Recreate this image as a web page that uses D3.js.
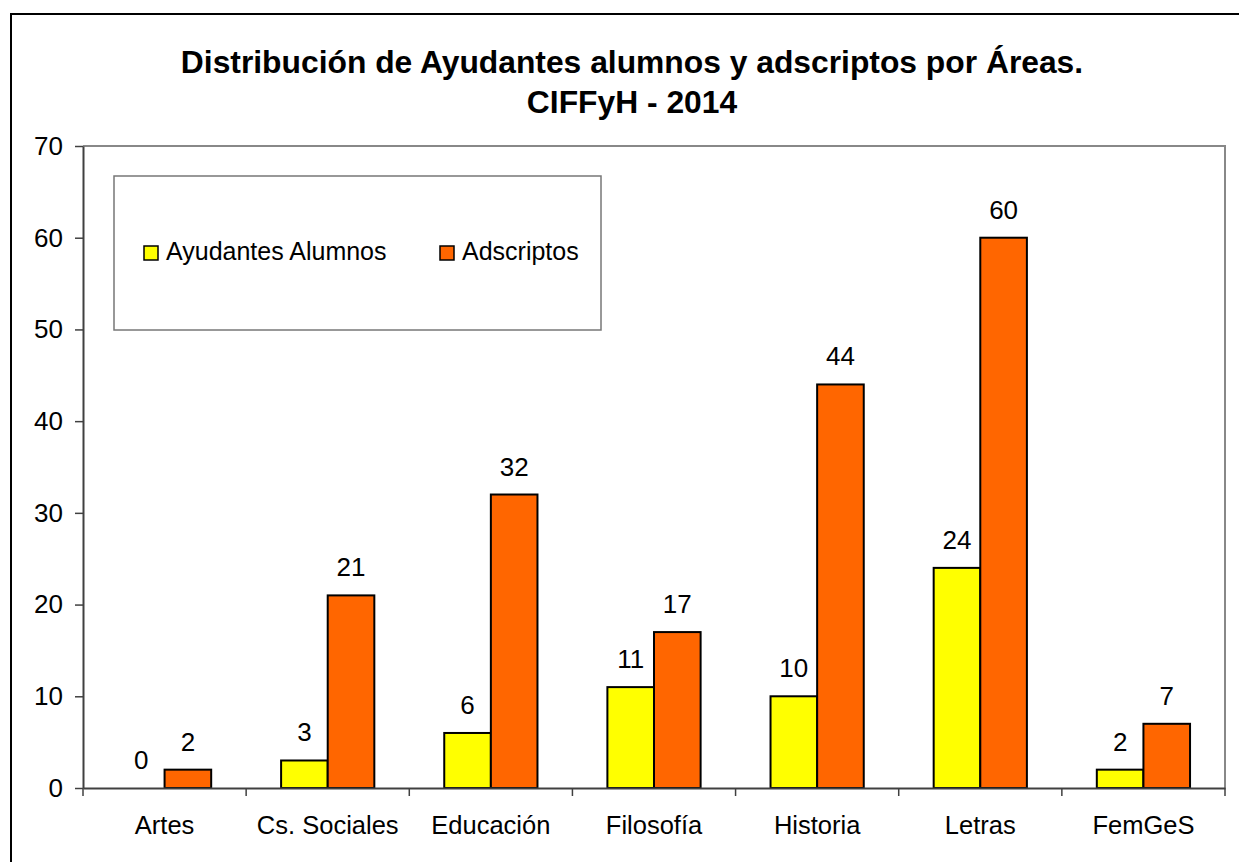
<!DOCTYPE html>
<html>
<head>
<meta charset="utf-8">
<script src="https://cdn.jsdelivr.net/npm/d3@7"></script>
<style>
  body { margin: 0; background: #fff; }
  svg text { font-family: "Liberation Sans", Arial, sans-serif; fill: #000; }
</style>
</head>
<body>
<svg id="chart" width="1239" height="862"></svg>
<script>
// Data.
const areas = ["Artes", "Cs. Sociales", "Educación", "Filosofía", "Historia", "Letras", "FemGeS"];
const ayudantes = [0, 3, 6, 11, 10, 24, 2];
const adscriptos = [2, 21, 32, 17, 44, 60, 7];
const seriesNames = ["Ayudantes Alumnos", "Adscriptos"];
const seriesColors = ["#ffff00", "#ff6600"];
const yTicks = [0, 10, 20, 30, 40, 50, 60, 70];
const titleLines = ["Distribución de Ayudantes alumnos y adscriptos por Áreas.", "CIFFyH - 2014"];

const svg = d3.select("#chart");

// Outer chart border (runs off the right and bottom edge like the original).
svg.append("rect")
  .attr("x", 11).attr("y", 14).attr("width", 1260).attr("height", 900)
  .attr("fill", "none").attr("stroke", "#000").attr("stroke-width", 2);

const plot = { left: 83, right: 1225, top: 146, bottom: 788 };

const x = d3.scaleBand().domain(areas).range([plot.left, plot.right]);
const y = d3.scaleLinear().domain([0, 70]).range([plot.bottom, plot.top]);
const barW = x.bandwidth() / 3.5;

// Plot frame: grey top and right edges.
svg.append("path")
  .attr("d", `M${plot.left},${plot.top}H${plot.right}V${plot.bottom}`)
  .attr("fill", "none").attr("stroke", "#888").attr("stroke-width", 2);

// Title.
svg.append("text")
  .attr("x", 632).attr("y", 73)
  .attr("text-anchor", "middle").attr("font-size", "31.8px").attr("font-weight", "bold")
  .selectAll("tspan").data(titleLines).join("tspan")
  .attr("x", 632).attr("dy", (d, i) => i === 0 ? 0 : 40)
  .text(d => d);

// Legend.
const legend = svg.append("g");
legend.append("rect")
  .attr("x", 114).attr("y", 176).attr("width", 487).attr("height", 154)
  .attr("fill", "#fff").attr("stroke", "#777").attr("stroke-width", 1.5);
const legendX = [144, 440];
seriesNames.forEach((name, i) => {
  legend.append("rect")
    .attr("x", legendX[i]).attr("y", 246).attr("width", 14).attr("height", 14)
    .attr("fill", seriesColors[i]).attr("stroke", "#000").attr("stroke-width", 1.5);
  legend.append("text")
    .attr("x", legendX[i] + 22).attr("y", 260)
    .attr("font-size", "25px")
    .text(name);
});

// Bars.
const rows = areas.map((a, i) => ({ area: a, values: [ayudantes[i], adscriptos[i]] }));
const groups = svg.append("g").selectAll("g").data(rows).join("g")
  .attr("transform", d => `translate(${x(d.area) + x.bandwidth() / 2 - barW},0)`);

groups.selectAll("rect").data(d => d.values).join("rect")
  .attr("x", (d, i) => i * barW)
  .attr("y", d => y(d))
  .attr("width", barW)
  .attr("height", d => y(0) - y(d))
  .attr("fill", (d, i) => seriesColors[i])
  .attr("stroke", "#000").attr("stroke-width", 2)
  .attr("display", d => d === 0 ? "none" : null);

groups.selectAll("text").data(d => d.values).join("text")
  .attr("x", (d, i) => i * barW + barW / 2)
  .attr("y", d => y(d) - 19)
  .attr("text-anchor", "middle")
  .attr("font-size", "26px")
  .text(d => d);

// Y axis.
const yAxis = svg.append("g")
  .attr("transform", `translate(${plot.left},0)`)
  .call(d3.axisLeft(y).tickValues(yTicks).tickSize(8).tickPadding(12).tickSizeOuter(0));
yAxis.select(".domain").attr("stroke", "#404040").attr("stroke-width", 2);
yAxis.selectAll(".tick line").attr("stroke", "#404040").attr("stroke-width", 1.5);
yAxis.selectAll(".tick text")
  .attr("font-size", "26px").attr("font-family", "Liberation Sans, Arial, sans-serif")
  .attr("fill", "#000");

// X axis: ticks at the band boundaries.
const xAxis = svg.append("g")
  .attr("transform", `translate(0,${plot.bottom})`)
  .call(d3.axisBottom(x).tickSize(0).tickPadding(28));
xAxis.select(".domain").attr("stroke", "#404040").attr("stroke-width", 2);
xAxis.selectAll(".tick text")
  .attr("font-size", "25.5px").attr("font-family", "Liberation Sans, Arial, sans-serif")
  .attr("fill", "#000");

const bounds = areas.map(a => x(a)).concat([plot.right]);
svg.append("g").selectAll("line").data(bounds).join("line")
  .attr("x1", d => d).attr("x2", d => d)
  .attr("y1", plot.bottom).attr("y2", plot.bottom + 8)
  .attr("stroke", "#404040").attr("stroke-width", 1.5);
</script>
</body>
</html>
